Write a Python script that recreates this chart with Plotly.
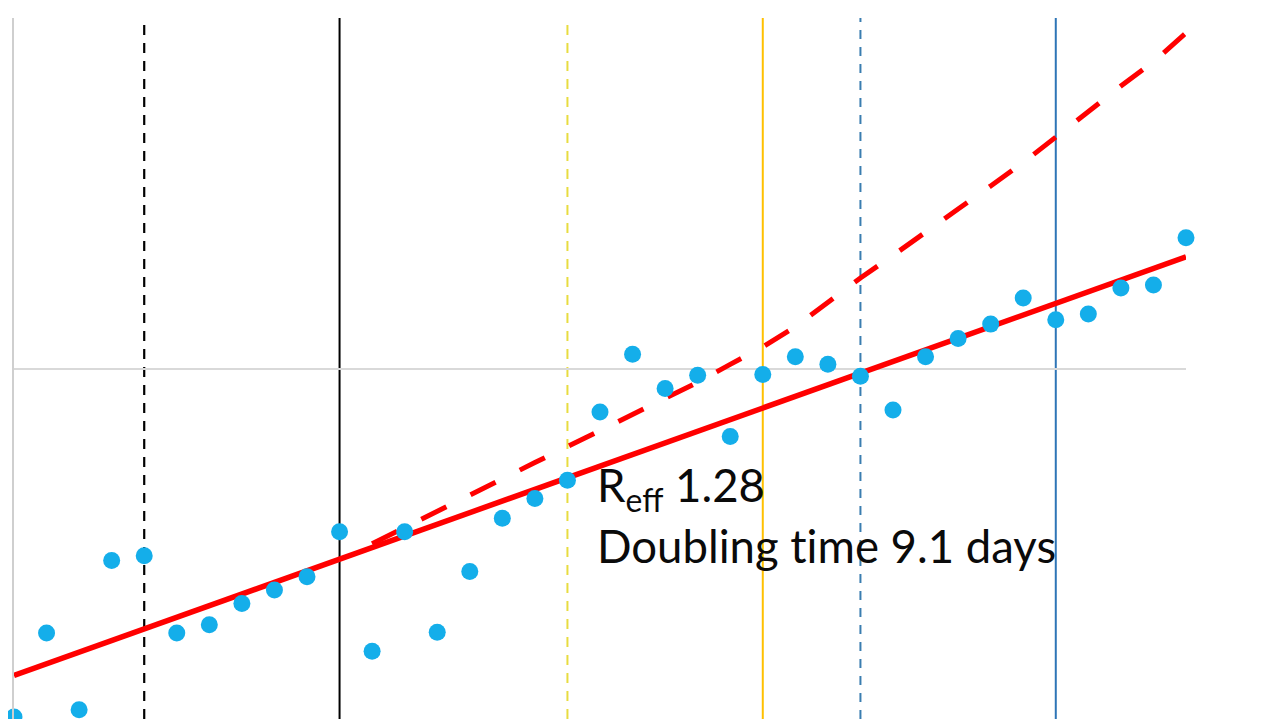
import plotly.graph_objects as go

# Day index (x) and observed values (log-scale y)
days = list(range(37))
observed = [102, 177, 107, 285, 294, 177, 187, 215, 235, 256,
            344, 157, 344, 178, 265, 376, 428, 483, 755, 1104,
            882, 961, 643, 966, 1086, 1033, 955, 765, 1086, 1223,
            1345, 1596, 1385, 1437, 1705, 1739, 2370]

# Fitted exponential trend (solid red), start and end
trend_days = [0, 36]
trend_values = [134, 2092]

# Projection (dashed red)
proj_days = list(range(11, 37))
proj_values = [318, 354, 396, 439, 488, 542, 602, 669, 743, 826,
               918, 1033, 1158, 1323, 1555, 1821, 2112, 2449, 2863, 3332,
               3886, 4590, 5444, 6418, 7526, 9090]

# Vertical marker days and styles
vline_days = [4, 10, 17, 23, 26, 32]
vline_colors = ["#000000", "#000000", "#E8DC40", "#FFC000", "#3A7DB0", "#2E75B6"]
vline_dashes = ["10px,8px", "solid", "10px,8px", "solid", "9px,8px", "solid"]
vline_widths = [2.2, 2, 2, 2, 2, 2]

label_line1 = "R<sub>eff</sub> 1.28"
label_line2 = "Doubling t\u200cime 9.1 days"

fig = go.Figure()

fig.add_trace(go.Scatter(
    x=trend_days, y=trend_values, mode="lines",
    line=dict(color="#FF0000", width=5.5), cliponaxis=False,
    hoverinfo="skip", showlegend=False))

fig.add_trace(go.Scatter(
    x=proj_days, y=proj_values, mode="lines",
    line=dict(color="#FF0000", width=5, dash="28px,27px"), cliponaxis=False,
    hoverinfo="skip", showlegend=False))

fig.add_trace(go.Scatter(
    x=days, y=observed, mode="markers",
    marker=dict(color="#14AEEA", size=17, line=dict(width=0)),
    cliponaxis=False, showlegend=False))

for d, c, ds, w in zip(vline_days, vline_colors, vline_dashes, vline_widths):
    fig.add_shape(type="line", xref="x", yref="paper", x0=d, x1=d, y0=0, y1=1,
                  line=dict(color=c, width=w, dash=ds), layer="between")

font = dict(family="Lato, Calibri, sans-serif", size=45.5, color="#0a0a0a")
fig.add_annotation(xref="paper", yref="paper", x=0.4958, y=(719 - 455) / 701,
                   xanchor="left", yanchor="top", text=label_line1,
                   showarrow=False, font=font, align="left")
fig.add_annotation(xref="paper", yref="paper", x=0.4958, y=(719 - 516) / 701,
                   xanchor="left", yanchor="top", text=label_line2,
                   showarrow=False, font=font, align="left")

fig.update_layout(
    width=1279, height=719,
    margin=dict(l=6, r=101, t=10, b=8),
    paper_bgcolor="white", plot_bgcolor="white",
    xaxis=dict(range=[0, 36], showgrid=False, zeroline=False,
               showticklabels=False, showline=False, ticks=""),
    yaxis=dict(type="log", range=[2.003, 4.0014], dtick=1,
               showgrid=True, gridcolor="#D9D9D9", gridwidth=1.5,
               zeroline=False, showticklabels=False, ticks="",
               showline=True, linecolor="#CFCFCF", linewidth=2),
)

fig.write_html("out.html")
